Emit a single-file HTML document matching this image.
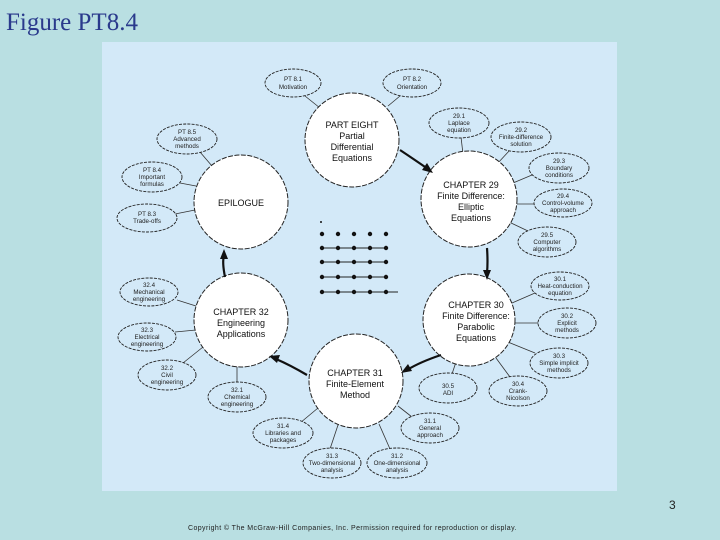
<!DOCTYPE html>
<html><head><meta charset="utf-8"><style>
html,body{margin:0;padding:0;}
body{width:720px;height:540px;background:#b9dfe2;position:relative;overflow:hidden;}
svg{position:absolute;left:0;top:0;}
</style></head><body>
<svg width="720" height="540" viewBox="0 0 720 540" font-family="Liberation Sans, sans-serif">
<text x="6" y="30" font-family="Liberation Serif, serif" font-size="25" fill="#2a3a8c">Figure PT8.4</text>
<rect x="102" y="42" width="515" height="449" fill="#d3e9f8"/>
<g stroke="#333" stroke-width="0.8" fill="none">
<line x1="305" y1="96" x2="320" y2="108"/>
<line x1="400" y1="96" x2="388" y2="106"/>
<line x1="200" y1="152" x2="212" y2="166"/>
<line x1="180" y1="183" x2="196" y2="186"/>
<line x1="175" y1="214" x2="195" y2="210"/>
<line x1="461" y1="137" x2="463" y2="154"/>
<line x1="510" y1="150" x2="497" y2="164"/>
<line x1="532" y1="175" x2="513" y2="183"/>
<line x1="535" y1="204" x2="517" y2="204"/>
<line x1="528" y1="231" x2="509" y2="222"/>
<line x1="535" y1="293" x2="512" y2="303"/>
<line x1="540" y1="323" x2="514" y2="323"/>
<line x1="535" y1="353" x2="503" y2="340"/>
<line x1="510" y1="377" x2="496" y2="358"/>
<line x1="452" y1="374" x2="456" y2="362"/>
<line x1="412" y1="417" x2="398" y2="406"/>
<line x1="390" y1="449" x2="379" y2="424"/>
<line x1="330" y1="449" x2="338" y2="425"/>
<line x1="300" y1="423" x2="318" y2="408"/>
<line x1="237" y1="383" x2="237" y2="366"/>
<line x1="183" y1="363" x2="203" y2="347"/>
<line x1="175" y1="332" x2="196" y2="330"/>
<line x1="177" y1="300" x2="196" y2="306"/>
</g>
<g stroke="#222" stroke-width="0.9" stroke-dasharray="3,1.2" fill="#d3e9f8">
<ellipse cx="293" cy="83" rx="28" ry="14"/>
<ellipse cx="412" cy="83" rx="29" ry="14"/>
<ellipse cx="187" cy="139" rx="30" ry="15"/>
<ellipse cx="152" cy="177" rx="30" ry="15"/>
<ellipse cx="147" cy="218" rx="30" ry="14"/>
<ellipse cx="459" cy="123" rx="30" ry="15"/>
<ellipse cx="521" cy="137" rx="30" ry="15"/>
<ellipse cx="559" cy="168" rx="30" ry="15"/>
<ellipse cx="563" cy="203" rx="29" ry="14"/>
<ellipse cx="547" cy="242" rx="29" ry="15"/>
<ellipse cx="560" cy="286" rx="29" ry="14"/>
<ellipse cx="567" cy="323" rx="29" ry="15"/>
<ellipse cx="559" cy="363" rx="29" ry="15"/>
<ellipse cx="518" cy="391" rx="29" ry="15"/>
<ellipse cx="448" cy="388" rx="29" ry="15"/>
<ellipse cx="430" cy="428" rx="29" ry="15"/>
<ellipse cx="397" cy="463" rx="30" ry="15"/>
<ellipse cx="332" cy="463" rx="29" ry="15"/>
<ellipse cx="283" cy="433" rx="30" ry="15"/>
<ellipse cx="237" cy="397" rx="29" ry="15"/>
<ellipse cx="167" cy="375" rx="29" ry="15"/>
<ellipse cx="147" cy="337" rx="29" ry="14"/>
<ellipse cx="149" cy="292" rx="29" ry="14"/>
</g>
<g stroke="#222" stroke-width="1" stroke-dasharray="5,1.5" fill="#fff">
<circle cx="352" cy="140" r="47"/>
<circle cx="241" cy="202" r="47"/>
<circle cx="469" cy="199" r="48"/>
<circle cx="469" cy="320" r="46"/>
<circle cx="356" cy="381" r="47"/>
<circle cx="241" cy="320" r="47"/>
</g>
<g stroke="#111" stroke-width="2.2" fill="none">
<path d="M400 150 Q415 160 428 169"/>
<path d="M487 248 Q488 262 487 273"/>
<path d="M441 355 Q420 362 407 370"/>
<path d="M307 375 Q290 365 276 359"/>
<path d="M225 277 Q222 262 224 256"/>
</g>
<g fill="#111">
<polygon points="433,173 422,170 427,163"/>
<polygon points="487,280 483,270 491,270"/>
<polygon points="401,373 408,364 412,371"/>
<polygon points="269,356 280,355 277,363"/>
<polygon points="224,249 228,259 220,259"/>
</g>
<g stroke="#222" stroke-width="1">
<line x1="322" y1="248" x2="386" y2="248"/>
<line x1="322" y1="262" x2="386" y2="262"/>
<line x1="322" y1="277" x2="386" y2="277"/>
<line x1="322" y1="292" x2="398" y2="292"/>
</g>
<g fill="#111">
<circle cx="321" cy="222" r="1"/>
<circle cx="322" cy="234" r="2.2"/><circle cx="338" cy="234" r="2.2"/><circle cx="354" cy="234" r="2.2"/><circle cx="370" cy="234" r="2.2"/><circle cx="386" cy="234" r="2.2"/>
<circle cx="322" cy="248" r="2.2"/><circle cx="338" cy="248" r="2.2"/><circle cx="354" cy="248" r="2.2"/><circle cx="370" cy="248" r="2.2"/><circle cx="386" cy="248" r="2.2"/>
<circle cx="322" cy="262" r="2.2"/><circle cx="338" cy="262" r="2.2"/><circle cx="354" cy="262" r="2.2"/><circle cx="370" cy="262" r="2.2"/><circle cx="386" cy="262" r="2.2"/>
<circle cx="322" cy="277" r="2.2"/><circle cx="338" cy="277" r="2.2"/><circle cx="354" cy="277" r="2.2"/><circle cx="370" cy="277" r="2.2"/><circle cx="386" cy="277" r="2.2"/>
<circle cx="322" cy="292" r="2.2"/><circle cx="338" cy="292" r="2.2"/><circle cx="354" cy="292" r="2.2"/><circle cx="370" cy="292" r="2.2"/><circle cx="386" cy="292" r="2.2"/>
</g>
<g font-size="9" fill="#111" text-anchor="middle">
<text x="352" y="128">PART EIGHT</text><text x="352" y="139">Partial</text><text x="352" y="150">Differential</text><text x="352" y="161">Equations</text>
<text x="241" y="206">EPILOGUE</text>
<text x="471" y="188">CHAPTER 29</text><text x="471" y="199">Finite Difference:</text><text x="471" y="210">Elliptic</text><text x="471" y="221">Equations</text>
<text x="476" y="308">CHAPTER 30</text><text x="476" y="319">Finite Difference:</text><text x="476" y="330">Parabolic</text><text x="476" y="341">Equations</text>
<text x="355" y="376">CHAPTER 31</text><text x="355" y="387">Finite-Element</text><text x="355" y="398">Method</text>
<text x="241" y="315">CHAPTER 32</text><text x="241" y="326">Engineering</text><text x="241" y="337">Applications</text>
</g>
<g font-size="6.2" fill="#222" text-anchor="middle">
<text x="293" y="81">PT 8.1</text><text x="293" y="89">Motivation</text>
<text x="412" y="81">PT 8.2</text><text x="412" y="89">Orientation</text>
<text x="187" y="134">PT 8.5</text><text x="187" y="141">Advanced</text><text x="187" y="148">methods</text>
<text x="152" y="172">PT 8.4</text><text x="152" y="179">Important</text><text x="152" y="186">formulas</text>
<text x="147" y="216">PT 8.3</text><text x="147" y="223">Trade-offs</text>
<text x="459" y="118">29.1</text><text x="459" y="125">Laplace</text><text x="459" y="132">equation</text>
<text x="521" y="132">29.2</text><text x="521" y="139">Finite-difference</text><text x="521" y="146">solution</text>
<text x="559" y="163">29.3</text><text x="559" y="170">Boundary</text><text x="559" y="177">conditions</text>
<text x="563" y="198">29.4</text><text x="563" y="205">Control-volume</text><text x="563" y="212">approach</text>
<text x="547" y="237">29.5</text><text x="547" y="244">Computer</text><text x="547" y="251">algorithms</text>
<text x="560" y="281">30.1</text><text x="560" y="288">Heat-conduction</text><text x="560" y="295">equation</text>
<text x="567" y="318">30.2</text><text x="567" y="325">Explicit</text><text x="567" y="332">methods</text>
<text x="559" y="358">30.3</text><text x="559" y="365">Simple implicit</text><text x="559" y="372">methods</text>
<text x="518" y="386">30.4</text><text x="518" y="393">Crank-</text><text x="518" y="400">Nicolson</text>
<text x="448" y="388">30.5</text><text x="448" y="395">ADI</text>
<text x="430" y="423">31.1</text><text x="430" y="430">General</text><text x="430" y="437">approach</text>
<text x="397" y="458">31.2</text><text x="397" y="465">One-dimensional</text><text x="397" y="472">analysis</text>
<text x="332" y="458">31.3</text><text x="332" y="465">Two-dimensional</text><text x="332" y="472">analysis</text>
<text x="283" y="428">31.4</text><text x="283" y="435">Libraries and</text><text x="283" y="442">packages</text>
<text x="237" y="392">32.1</text><text x="237" y="399">Chemical</text><text x="237" y="406">engineering</text>
<text x="167" y="370">32.2</text><text x="167" y="377">Civil</text><text x="167" y="384">engineering</text>
<text x="147" y="332">32.3</text><text x="147" y="339">Electrical</text><text x="147" y="346">engineering</text>
<text x="149" y="287">32.4</text><text x="149" y="294">Mechanical</text><text x="149" y="301">engineering</text>
</g>
<text x="669" y="509" font-size="12" fill="#222">3</text>
<text x="188" y="530" font-size="7" letter-spacing="0.4" fill="#222">Copyright © The McGraw-Hill Companies, Inc. Permission required for reproduction or display.</text>
</svg>
</body></html>
